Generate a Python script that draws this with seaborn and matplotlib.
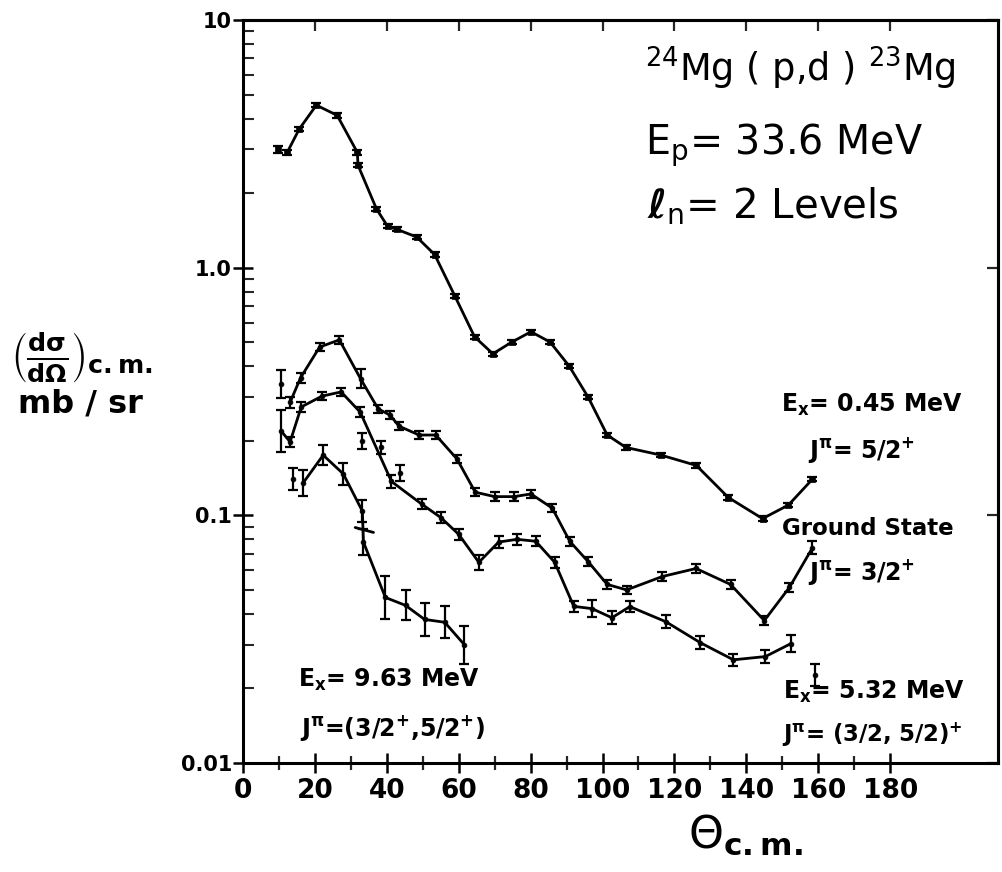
import numpy as np
import pandas as pd
import matplotlib
matplotlib.use("Agg")
import matplotlib.pyplot as plt
import seaborn as sns
from matplotlib.ticker import FixedLocator, NullLocator, NullFormatter

# ---------------- data ----------------
# Ex = 0.45 MeV, J = 5/2+
x_045 = [12.3, 15.6, 20.4, 26.2, 31.8, 32.0, 37.1, 40.2, 42.7, 48.3, 53.3, 58.9, 64.4,
         69.5, 74.8, 80.1, 85.4, 90.7, 96.0, 101.3, 106.5, 116.3, 126.1, 135.0, 144.5,
         151.7, 158.4]
y_045 = [2.92, 3.62, 4.53, 4.12, 2.92, 2.59, 1.73, 1.47, 1.43, 1.33, 1.13, 0.77, 0.526,
         0.449, 0.501, 0.551, 0.501, 0.401, 0.300, 0.211, 0.188, 0.175, 0.159, 0.118, 0.097,
         0.110, 0.140]
x_045_extra = [9.8]
y_045_extra = [3.0]

# Ground state, J = 3/2+
x_gs = [13.1, 16.0, 21.3, 26.8, 32.7, 37.6, 40.9, 43.4, 49.0, 53.6, 59.5, 64.6, 70.0,
        75.4, 80.1, 86.0, 90.9, 96.0, 101.3, 106.7, 116.6, 126.0, 135.6, 145.0, 152.0, 158.4]
y_gs = [0.286, 0.359, 0.478, 0.511, 0.356, 0.269, 0.254, 0.229, 0.211, 0.211, 0.169, 0.124,
        0.119, 0.119, 0.122, 0.107, 0.0785, 0.065, 0.0526, 0.050, 0.0566, 0.061, 0.0526,
        0.0376, 0.0512, 0.074]
e_gs = [0.05, 0.05, 0.04, 0.04, 0.09, 0.04, 0.04, 0.04, 0.04, 0.04, 0.04, 0.04, 0.04,
        0.04, 0.04, 0.04, 0.04, 0.04, 0.04, 0.04, 0.04, 0.04, 0.04, 0.04, 0.04, 0.06]
x_gs_extra = [10.6]
y_gs_extra = [0.34]
e_gs_extra = [0.14]

# Ex = 5.32 MeV, J = (3/2, 5/2)+
x_532 = [10.6, 13.1, 16.2, 22.0, 27.3, 32.6, 41.3, 49.7, 55.0, 60.0, 65.6, 71.1, 76.2,
         81.4, 86.7, 92.0, 97.1, 102.6, 107.6, 117.6, 127.2, 136.4, 145.3, 152.3]
y_532 = [0.219, 0.198, 0.274, 0.303, 0.315, 0.261, 0.137, 0.111, 0.098, 0.0838, 0.0646,
         0.078, 0.080, 0.0786, 0.0646, 0.0429, 0.042, 0.0386, 0.0428, 0.0372, 0.0306,
         0.0261, 0.0269, 0.0303]
e_532 = [0.22, 0.05, 0.05, 0.04, 0.04, 0.05, 0.06, 0.05, 0.05, 0.05, 0.07, 0.06, 0.05,
         0.05, 0.05, 0.05, 0.08, 0.06, 0.05, 0.06, 0.06, 0.06, 0.06, 0.08]
x_532_extra = [33.1, 38.5, 43.8, 159.0]
y_532_extra = [0.200, 0.188, 0.148, 0.0227]
e_532_extra = [0.08, 0.06, 0.08, 0.11]

# Ex = 9.63 MeV, J = (3/2+, 5/2+)
x_963 = [16.7, 22.3, 27.9, 33.2, 33.5, 39.6, 45.2, 50.5, 56.1, 61.6]
y_963 = [0.135, 0.175, 0.147, 0.104, 0.078, 0.0466, 0.0433, 0.038, 0.037, 0.030]
e_963 = [0.13, 0.10, 0.11, 0.11, 0.13, 0.22, 0.15, 0.17, 0.16, 0.19]
x_963_extra = [13.9]
y_963_extra = [0.14]
e_963_extra = [0.11]
x_963_alt = [31.2, 36.3]
y_963_alt = [0.0893, 0.0853]

x_ticks = [0, 20, 40, 60, 80, 100, 120, 140, 160, 180]
y_ticks = [0.01, 0.1, 1.0, 10]
y_tick_labels = ["0.01", "0.1", "1.0", "10"]

# ---------------- figure ----------------
W, H = 1002, 872
sns.set_style("ticks")
plt.rcParams["font.family"] = ["DejaVu Sans"]
plt.rcParams["mathtext.fontset"] = "dejavusans"
plt.rcParams["mathtext.default"] = "bf"

fig = plt.figure(figsize=(W / 100, H / 100), dpi=100)
L, R, T, B = 243, 998, 20, 763
ax = fig.add_axes([L / W, 1 - B / H, (R - L) / W, (B - T) / H])

ink = "black"
lw = 2.0


def curve(xs, ys):
    df = pd.DataFrame({"x": xs, "y": ys})
    sns.lineplot(data=df, x="x", y="y", ax=ax, color=ink, lw=lw,
                 estimator=None, sort=False, legend=False)


def bars(xs, ys, es, marker="o", ms=3.5):
    ys = np.asarray(ys)
    es = np.asarray(es)
    ax.errorbar(xs, ys, yerr=[ys - ys / (1 + es), ys * es], fmt="none",
                ecolor=ink, elinewidth=1.6, capsize=3.5, capthick=1.6)
    sns.scatterplot(x=xs, y=ys, ax=ax, color=ink, marker=marker, s=ms ** 2,
                    edgecolor=ink, linewidth=0.5, legend=False)


curve(x_045, y_045)
bars(x_045, y_045, [0.02] * len(x_045), marker="s", ms=5)
bars(x_045_extra, y_045_extra, [0.03], marker="s", ms=5)

curve(x_gs, y_gs)
bars(x_gs, y_gs, e_gs)
bars(x_gs_extra, y_gs_extra, e_gs_extra)

curve(x_532, y_532)
bars(x_532, y_532, e_532)
bars(x_532_extra, y_532_extra, e_532_extra)

curve(x_963, y_963)
bars(x_963, y_963, e_963)
bars(x_963_extra, y_963_extra, e_963_extra)
curve(x_963_alt, y_963_alt)

ax.set_yscale("log")
ax.set_xlim(0, 210)
ax.set_ylim(0.01, 10)
ax.set_xlabel("")
ax.set_ylabel("")

for s in ax.spines.values():
    s.set_linewidth(2.2)
    s.set_color(ink)

ax.set_xticks(x_ticks)
ax.set_xticklabels([str(v) for v in x_ticks], fontweight="bold")
ax.xaxis.set_minor_locator(FixedLocator(list(range(10, 180, 20))))
ax.set_yticks(y_ticks)
ax.set_yticklabels(y_tick_labels, fontweight="bold")
ax.yaxis.set_minor_formatter(NullFormatter())
ax.tick_params(axis="x", which="major", direction="inout", length=14, width=1.8,
               labelsize=19, pad=4, colors=ink)
ax.tick_params(axis="x", which="minor", direction="inout", length=10, width=1.6)
ax.tick_params(axis="y", which="major", direction="inout", length=14, width=1.8,
               labelsize=15, pad=1, colors=ink)
ax.tick_params(axis="y", which="minor", direction="in", length=8, width=1.5)

sec_t = ax.secondary_xaxis("top")
sec_t.set_xticks(x_ticks[1:])
sec_t.xaxis.set_minor_locator(NullLocator())
sec_t.tick_params(direction="in", length=8, width=1.6, labeltop=False)
sec_t.spines["top"].set_linewidth(2.2)

sec_r = ax.secondary_yaxis("right")
sec_r.set_yticks(y_ticks)
sec_r.yaxis.set_minor_locator(NullLocator())
sec_r.tick_params(direction="in", length=8, width=1.6, labelright=False)
sec_r.spines["right"].set_linewidth(2.2)


def ftext(px, py, s, size, ha="left", va="center", weight="bold", **kw):
    fig.text(px / W, 1 - py / H, s, fontsize=size, ha=ha, va=va, color=ink,
             fontweight=weight, **kw)


# header (medium weight)
ftext(645, 68, r"$^{\mathrm{24}}$Mg ( p,d ) $^{\mathrm{23}}$Mg", 26.5, weight="normal")
ftext(645, 145, r"E$_{\mathrm{p}}$= 33.6 MeV", 28.5, weight="normal")
ftext(647, 207, r"$\ell_{\mathrm{n}}$= 2 Levels", 29, weight="normal")

# curve labels
ftext(781, 405, r"E$_{x}$= 0.45 MeV", 17)
ftext(808, 450, r"J$^{\mathbf{\pi}}$= 5/2$^{+}$", 17)
ftext(782, 528, "Ground State", 16.5)
ftext(808, 572, r"J$^{\mathbf{\pi}}$= 3/2$^{+}$", 17)
ftext(783, 692, r"E$_{x}$= 5.32 MeV", 17)
ftext(782, 735, r"J$^{\mathbf{\pi}}$= (3/2, 5/2)$^{+}$", 16.5)
ftext(298, 680, r"E$_{x}$= 9.63 MeV", 17)
ftext(300, 728, r"J$^{\mathbf{\pi}}$=(3/2$^{+}$,5/2$^{+}$)", 17)

# axis titles
ftext(745, 835, r"$\mathrm{\Theta}_{c.m.}$", 32, ha="center")
ftext(82, 358, r"$\left(\frac{d\mathbf{\sigma}}{d\mathbf{\Omega}}\right)_{c.m.}$",
      26, ha="center")
ftext(80, 404, "mb / sr", 23, ha="center")

fig.savefig("out.png", dpi=100)
